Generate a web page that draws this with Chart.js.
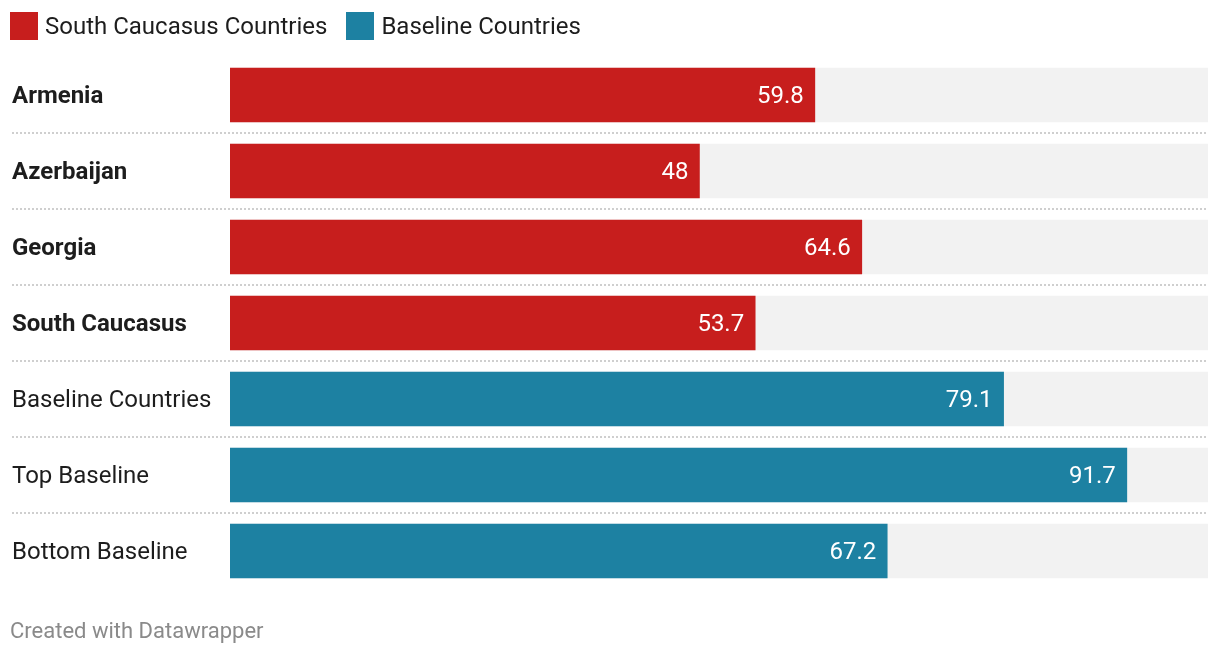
<!DOCTYPE html>
<html>
<head>
<meta charset="utf-8">
<script src="https://cdn.jsdelivr.net/npm/chart.js@4.4.1/dist/chart.umd.min.js"></script>
<style>
  html, body { margin: 0; padding: 0; background: #fff; }
  body { width: 1220px; height: 656px; position: relative; overflow: hidden; font-family: Roboto, sans-serif; }
  #wrap { position: absolute; left: 0; top: 0; width: 1220px; height: 656px; }
  #legend { position: absolute; left: 10px; top: 11px; display: flex; align-items: center; font-size: 24px; color: #1d1d1d; line-height: 30px; }
  .li { display: flex; align-items: center; margin-right: 19px; }
  .sw { width: 28px; height: 28px; margin-right: 7px; }
  #footer { position: absolute; left: 10px; top: 618px; font-size: 22px; color: #8a8a8a; }
</style>
</head>
<body>
<div id="wrap"><canvas id="c" width="1220" height="656"></canvas></div>
<div id="legend"></div>
<div id="footer">Created with Datawrapper</div>
<script>
const categories = ["Armenia", "Azerbaijan", "Georgia", "South Caucasus", "Baseline Countries", "Top Baseline", "Bottom Baseline"];
const southCaucasusValues = [59.8, 48, 64.6, 53.7, null, null, null];
const baselineValues = [null, null, null, null, 79.1, 91.7, 67.2];
const fullScale = [100, 100, 100, 100, 100, 100, 100];
const boldRows = [true, true, true, true, false, false, false];
const seriesNames = ["South Caucasus Countries", "Baseline Countries"];
const seriesColors = ["#c71e1d", "#1d81a2"];

// HTML legend
const legendEl = document.getElementById('legend');
seriesNames.forEach((n, i) => {
  const li = document.createElement('div'); li.className = 'li';
  const sw = document.createElement('div'); sw.className = 'sw'; sw.style.background = seriesColors[i];
  const t = document.createElement('span'); t.textContent = n;
  li.appendChild(sw); li.appendChild(t); legendEl.appendChild(li);
});

const separators = {
  id: 'separators',
  beforeDatasetsDraw(chart) {
    const ctx = chart.ctx, y = chart.scales.y;
    ctx.save();
    ctx.strokeStyle = '#cfcfcf';
    ctx.lineWidth = 2;
    ctx.setLineDash([2, 2]);
    for (let i = 0; i < categories.length - 1; i++) {
      const py = Math.round((y.getPixelForValue(i) + y.getPixelForValue(i + 1)) / 2);
      ctx.beginPath();
      ctx.moveTo(12, py);
      ctx.lineTo(chart.chartArea.right, py);
      ctx.stroke();
    }
    ctx.restore();
  }
};

const valueLabels = {
  id: 'valueLabels',
  afterDatasetsDraw(chart) {
    const ctx = chart.ctx;
    ctx.save();
    ctx.fillStyle = '#ffffff';
    ctx.font = '400 24px Roboto';
    ctx.textAlign = 'right';
    ctx.textBaseline = 'middle';
    [0, 1].forEach(di => {
      const meta = chart.getDatasetMeta(di);
      const data = chart.data.datasets[di].data;
      meta.data.forEach((el, i) => {
        if (data[i] === null || data[i] === undefined) return;
        ctx.fillText(String(data[i]), el.x - 11, el.y + 2);
      });
    });
    ctx.restore();
  }
};

new Chart(document.getElementById('c'), {
  type: 'bar',
  data: {
    labels: categories,
    datasets: [
      { label: seriesNames[0], data: southCaucasusValues, backgroundColor: seriesColors[0], order: 0 },
      { label: seriesNames[1], data: baselineValues, backgroundColor: seriesColors[1], order: 0 },
      { label: 'bg', data: fullScale, backgroundColor: '#f2f2f2', order: 5 }
    ]
  },
  options: {
    indexAxis: 'y',
    responsive: false,
    animation: false,
    devicePixelRatio: 1,
    layout: { padding: { left: 12, right: 12, top: 57, bottom: 67 } },
    datasets: { bar: { grouped: false, barThickness: 54, borderWidth: 0, borderSkipped: false } },
    plugins: { legend: { display: false }, tooltip: { enabled: false } },
    scales: {
      x: { display: false, min: 0, max: 100 },
      y: {
        grid: { display: false },
        border: { display: false },
        afterFit(scale) { scale.width = 218; },
        ticks: {
          crossAlign: 'far',
          labelOffset: 2,
          color: '#1d1d1d',
          font: (ctx) => ({ family: 'Roboto', size: 24, weight: boldRows[ctx.index] ? 'bold' : 'normal' })
        }
      }
    }
  },
  plugins: [separators, valueLabels]
});
</script>
</body>
</html>
